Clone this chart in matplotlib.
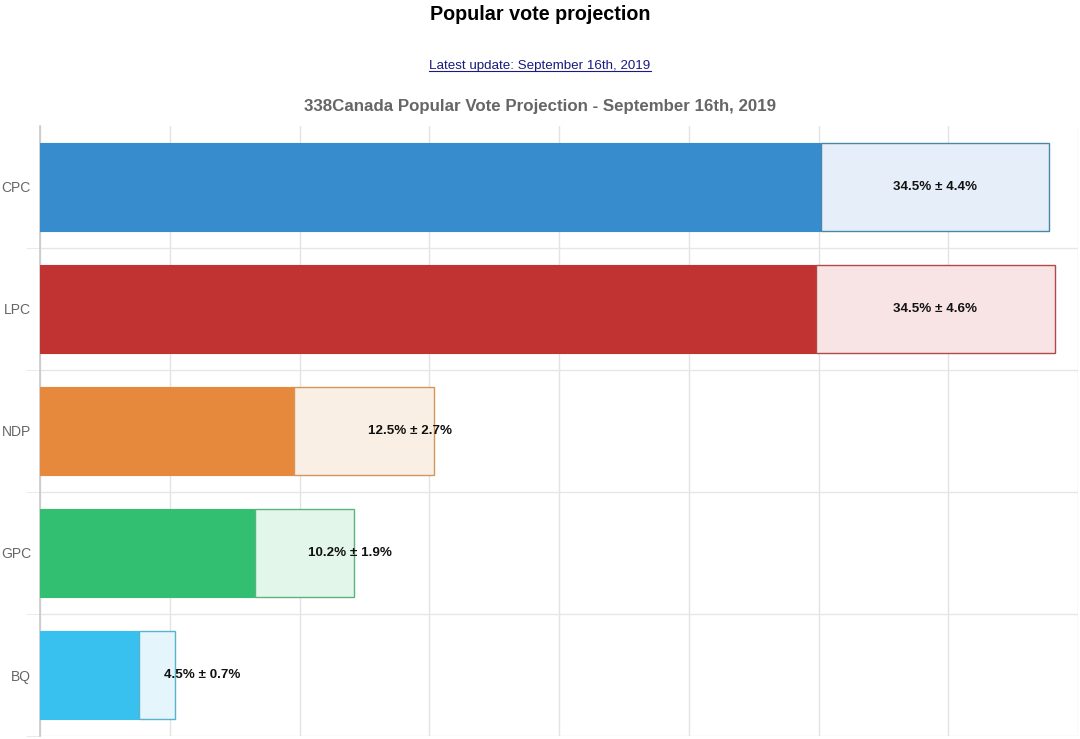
import matplotlib.pyplot as plt
from matplotlib.lines import Line2D

# Popular vote projection (338Canada, Sept 16th 2019)
parties = ['CPC', 'LPC', 'NDP', 'GPC', 'BQ']
vote = [34.5, 34.5, 12.5, 10.2, 4.5]
margin = [4.4, 4.6, 2.7, 1.9, 0.7]

solid_colors = ['#368ccd', '#c13333', '#e6893d', '#33bf72', '#38c0ef']
light_colors = ['#e6eef9', '#f8e4e4', '#f9efe4', '#e3f6ea', '#e4f5fb']
edge_colors = ['#4a86a8', '#b04a4a', '#d4955a', '#5db37f', '#5ab3cc']

plt.rcParams['font.family'] = ['Liberation Sans', 'DejaVu Sans']

fig = plt.figure(figsize=(10.8, 7.39), dpi=100)
ax = fig.add_axes([40 / 1080, 3 / 739, 1038 / 1080, 610 / 739])

low = [v - m for v, m in zip(vote, margin)]
span = [2 * m for m in margin]
ypos = list(range(len(parties)))

ax.barh(ypos, low, height=0.72, color=solid_colors, edgecolor=solid_colors,
        linewidth=0.8, zorder=3)
ax.barh(ypos, span, left=low, height=0.72, color=light_colors,
        edgecolor=edge_colors, linewidth=1.0, zorder=3)

# value labels; short bars get theirs pushed a little to the right
for y, lo, sp, v, m in zip(ypos, low, span, vote, margin):
    x = lo + sp / 2 + (1.75 if lo + sp < 20 else 0)
    ax.text(x, y, f'{v}% \u00b1 {m}%', ha='center', va='center',
            fontsize=9.6, fontweight='bold', color='#111111', zorder=4)

ax.set_xlim(0, 40)
ax.set_ylim(len(parties) - 0.5, -0.5)
ax.set_xticks(range(0, 41, 5))
ax.set_xticklabels([])
ax.set_yticks(ypos)
ax.set_yticklabels(parties, fontsize=10, color='#666666')
ax.set_yticks([i + 0.5 for i in range(len(parties))], minor=True)
ax.tick_params(axis='y', which='major', length=0, pad=6.5)
ax.tick_params(axis='y', which='minor', length=10, color='#e6e6e6')
ax.tick_params(axis='x', length=0)
ax.grid(axis='x', which='major', color='#e3e3e3', lw=1, zorder=0)
ax.grid(axis='y', which='minor', color='#e6e6e6', lw=1, zorder=0)
for s in ['top', 'right', 'bottom']:
    ax.spines[s].set_visible(False)
ax.spines['left'].set_color('#c8c8c8')
ax.spines['left'].set_linewidth(1.2)

fig.text(0.5, 1 - 15 / 739, 'Popular vote projection', ha='center', va='center',
         fontsize=14.2, fontweight='bold', color='#000000')
link = fig.text(0.5, 1 - 66 / 739, 'Latest update: September 16th, 2019',
                ha='center', va='center', fontsize=9.6, color='#1a1a80')
fig.text(0.5, 1 - 106 / 739,
         '338Canada Popular Vote Projection - September 16th, 2019',
         ha='center', va='center', fontsize=12.2, fontweight='bold', color='#666666')

# underline the link text
fig.canvas.draw()
bb = link.get_window_extent().transformed(fig.transFigure.inverted())
fig.add_artist(Line2D([bb.x0, bb.x1], [bb.y0 + 0.002, bb.y0 + 0.002],
                      transform=fig.transFigure, color='#1a1a80', lw=0.8))

fig.savefig('out.png', dpi=100)
